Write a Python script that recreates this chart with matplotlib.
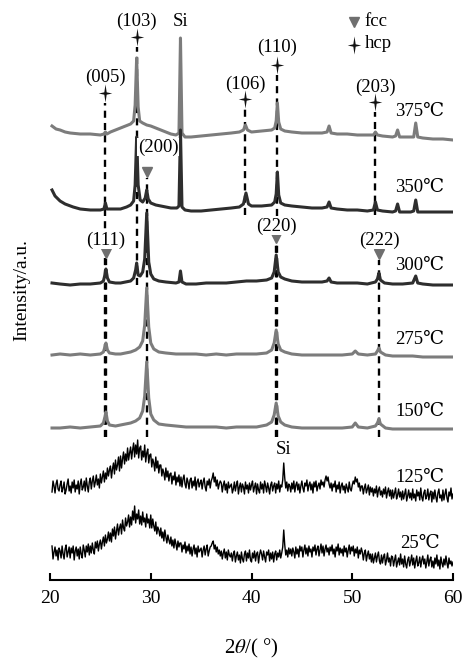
import numpy as np
import matplotlib
matplotlib.use('Agg')
import matplotlib.pyplot as plt
from matplotlib.path import Path

plt.rcParams['font.family'] = ['Liberation Serif', 'DejaVu Serif']
plt.rcParams['mathtext.fontset'] = 'stix'

# ---- data (2theta in degrees, intensity in a.u.) ----
temps = ['375℃', '350℃', '300℃', '275℃', '150℃', '125℃', '25℃']
offsets = [445, 370, 296, 225, 152, 90, 25]
label_y = [468, 392, 315, 240, 168, 103, 37]
colors = ['#7c7c7c', '#2e2e2e', '#2e2e2e', '#7c7c7c', '#7c7c7c', 'black', 'black']

p375 = [(20.2, 9), (20.6, 6), (21.0, 5), (21.5, 3), (22.0, 2), (23.0, 1), (24.0, 1), (25.0, 0),
        (25.35, 1), (25.5, 3), (25.65, 1), (26.0, 3), (26.5, 5), (27.0, 7), (27.5, 9), (28.0, 11),
        (28.3, 14), (28.45, 30), (28.6, 77), (28.75, 28), (28.9, 14), (29.2, 12), (29.6, 10),
        (30.0, 9), (30.5, 7), (31.0, 5), (31.5, 3), (32.0, 1), (32.5, 0), (32.8, 2), (32.95, 97),
        (33.1, 2), (33.4, -2), (34.0, -2), (35.0, -1), (36.0, 0), (37.0, 1), (38.0, 2), (38.8, 3),
        (39.2, 5), (39.4, 10), (39.6, 5), (40.0, 3), (41.0, 4), (42.0, 5), (42.3, 7), (42.45, 14),
        (42.57, 32), (42.7, 13), (42.9, 6), (43.3, 4), (44.0, 3), (45.0, 2), (46.0, 2), (47.0, 2),
        (47.5, 3), (47.7, 9), (47.9, 2), (48.5, 1), (49.5, 1), (50.5, 0), (51.5, 0), (52.1, 0),
        (52.3, 3), (52.5, 0), (53.0, -1), (54.0, -2), (54.3, -1), (54.5, 5), (54.7, -2), (55.0, -2),
        (55.8, -2), (56.1, -2), (56.3, 12), (56.5, -2), (57.0, -3), (58.0, -4), (59.0, -4), (60.0, -5)]

p350 = [(20.2, 20), (20.5, 14), (21.0, 9), (21.5, 6), (22.3, 3), (23.0, 1), (24.0, 0), (25.0, 0),
        (25.35, 1), (25.5, 7), (25.65, 1), (26.0, 1), (27.0, 1), (27.6, 3), (28.0, 5), (28.3, 9),
        (28.45, 25), (28.6, 73), (28.75, 25), (28.95, 10), (29.2, 8), (29.45, 12), (29.6, 20),
        (29.75, 11), (30.0, 7), (30.5, 5), (31.0, 4), (32.0, 2), (32.6, 2), (32.8, 4), (32.95, 80),
        (33.1, 3), (33.4, 0), (34.0, -1), (35.0, -1), (36.0, 0), (37.0, 1), (38.0, 2), (38.8, 3),
        (39.2, 6), (39.45, 17), (39.7, 6), (40.0, 4), (41.0, 4), (42.0, 5), (42.3, 8), (42.45, 16),
        (42.57, 38), (42.7, 15), (42.9, 7), (43.3, 5), (44.0, 4), (45.0, 3), (46.0, 2), (47.0, 2),
        (47.5, 3), (47.7, 8), (47.9, 2), (48.5, 1), (49.5, 0), (50.5, 0), (51.5, -1), (52.1, 0),
        (52.3, 8), (52.5, 0), (53.0, -1), (54.0, -2), (54.3, -1), (54.5, 6), (54.7, -2), (55.0, -2),
        (55.8, -2), (56.1, -1), (56.3, 10), (56.5, -2), (57.0, -2), (58.0, -2), (59.0, -2), (60.0, -2)]

p300 = [(20.2, 1), (21.0, 0), (22.0, -1), (23.0, 0), (24.0, 0), (25.0, 1), (25.3, 3), (25.45, 9),
        (25.55, 15), (25.7, 6), (25.9, 2), (26.5, 1), (27.0, 1), (27.5, 2), (28.0, 3), (28.3, 6),
        (28.5, 14), (28.6, 21), (28.75, 9), (28.95, 8), (29.2, 12), (29.4, 25), (29.6, 71),
        (29.8, 22), (30.0, 10), (30.3, 5), (30.8, 3), (31.5, 2), (32.5, 1), (32.8, 2), (32.95, 13),
        (33.1, 2), (33.5, 0), (34.5, 0), (35.5, 1), (36.5, 1), (37.5, 1), (38.5, 2), (39.5, 3),
        (40.5, 3), (41.5, 4), (42.0, 6), (42.25, 12), (42.45, 29), (42.65, 12), (42.9, 7), (43.3, 5),
        (44.0, 3), (45.0, 2), (46.0, 2), (47.0, 2), (47.5, 3), (47.7, 6), (47.9, 2), (48.5, 1),
        (49.5, 1), (50.5, 1), (51.5, 0), (52.3, 2), (52.5, 5), (52.65, 11), (52.8, 4), (53.2, 1),
        (54.0, 0), (55.0, 0), (56.0, 1), (56.3, 8), (56.5, 1), (57.0, 0), (58.0, -1), (59.0, -1),
        (60.0, -1)]

p275 = [(20.2, 0), (21.0, 1), (22.0, 0), (23.0, 1), (24.0, 0), (25.0, 1), (25.3, 3), (25.45, 8),
        (25.55, 12), (25.7, 5), (25.9, 2), (26.5, 1), (27.0, 1), (27.5, 2), (28.0, 3), (28.5, 5),
        (28.9, 8), (29.2, 14), (29.4, 30), (29.6, 67), (29.8, 28), (30.0, 12), (30.3, 6), (30.8, 3),
        (31.5, 2), (32.5, 1), (33.5, 1), (34.5, 1), (35.5, 0), (36.5, 1), (37.5, 0), (38.5, 1),
        (39.5, 1), (40.5, 1), (41.5, 2), (42.0, 5), (42.25, 12), (42.45, 25), (42.65, 11), (42.9, 5),
        (43.3, 3), (44.0, 1), (45.0, 0), (46.0, 0), (47.0, 0), (48.0, 0), (49.0, 0), (50.0, 1),
        (50.3, 4), (50.6, 1), (51.5, 0), (52.3, 1), (52.5, 4), (52.65, 7), (52.8, 3), (53.3, 0),
        (54.0, -1), (55.0, -1), (56.0, -1), (57.0, -2), (58.0, -2), (59.0, -2), (60.0, -2)]

p150 = [(20.2, 0), (21.0, 0), (22.0, 1), (23.0, 0), (24.0, 1), (25.0, 2), (25.3, 5), (25.45, 11),
        (25.55, 16), (25.7, 7), (25.9, 3), (26.5, 2), (27.0, 3), (27.5, 4), (28.0, 5), (28.5, 7),
        (28.9, 10), (29.2, 17), (29.4, 32), (29.6, 66), (29.8, 30), (30.0, 14), (30.3, 8), (30.8, 4),
        (31.5, 3), (32.5, 2), (33.5, 1), (34.5, 1), (35.5, 1), (36.5, 1), (37.5, 0), (38.5, 1),
        (39.5, 1), (40.5, 1), (41.5, 3), (42.0, 6), (42.25, 13), (42.45, 25), (42.65, 12), (42.9, 6),
        (43.3, 3), (44.0, 1), (45.0, 0), (46.0, 0), (47.0, 0), (48.0, 0), (49.0, 0), (50.0, 1),
        (50.3, 5), (50.6, 1), (51.5, 0), (52.3, 2), (52.5, 5), (52.65, 9), (52.8, 4), (53.3, 0),
        (54.0, -1), (55.0, -1), (56.0, -1), (57.0, -1), (58.0, -1), (59.0, -1), (60.0, -1)]

# amorphous (noisy) scans, read every 0.1 deg from 20 to 60 (one row per degree)
tt_amorph = np.linspace(20, 60, 401)
i125 = [7, 0, -2, 9, 4, -3, 6, 10, 1, -1,
        5, 9, -2, 2, 8, -4, 0, 6, 11, -1,
        4, -3, 8, 2, 10, -2, 5, 1, 9, -4,
        6, 11, 0, 3, 9, -1, 12, 4, -2, 8,
        12, 1, 9, 14, 3, 8, 15, 5, 11, 2,
        16, 7, 13, 19, 8, 17, 11, 22, 14, 20,
        24, 12, 21, 27, 16, 30, 20, 25, 33, 19,
        34, 22, 31, 38, 26, 36, 29, 42, 30, 37,
        43, 31, 40, 47, 33, 45, 36, 50, 32, 42,
        44, 30, 39, 33, 45, 28, 37, 41, 27, 35,
        36, 23, 31, 27, 19, 33, 22, 29, 17, 25,
        25, 14, 21, 17, 10, 22, 13, 19, 9, 16,
        17, 6, 14, 10, 18, 5, 13, 8, 15, 4,
        13, 3, 11, 15, 6, 2, 12, 8, 1, 10,
        12, 2, 9, 4, 13, 0, 8, 11, 3, 7,
        10, 1, 8, 12, 3, -1, 9, 5, 11, 2,
        9, 12, 17, 8, 13, 4, 10, 1, 6, 9,
        7, -2, 5, 9, 0, 6, -3, 8, 2, 4,
        6, -3, 1, 8, -1, 5, 9, -4, 3, 7,
        -2, 6, 3, -4, 8, 1, 5, -3, 7, 0,
        5, 9, -2, 3, 7, -4, 6, 0, -3, 8,
        1, 6, -3, 9, 4, -2, 7, 2, -4, 5,
        8, -1, 4, 7, -3, 6, 1, 9, -2, 5,
        3, 10, 27, 12, 2, 8, -1, 6, 4, -2,
        7, 1, 9, -2, 5, 8, 0, 6, -3, 4,
        9, 2, -2, 7, 4, 10, -1, 5, 8, 0,
        6, -3, 8, 3, 9, -1, 4, 7, 1, 10,
        5, 8, 3, 10, 14, 9, 13, 6, 2, 7,
        -1, 6, 3, 9, -2, 5, 1, 8, -3, 4,
        7, 0, 4, -3, 6, 2, -2, 8, 1, -1,
        5, 9, 6, 13, 8, 11, 3, 7, -1, 4,
        4, -4, 2, 6, -3, 1, 5, -5, 3, -2,
        2, -6, 1, -3, 4, -7, 0, 3, -5, -1,
        -7, 1, -4, 3, -8, -2, 2, -6, 0, -9,
        0, -8, -3, 2, -9, -5, 1, -7, -2, -10,
        -1, -9, -4, 1, -11, -6, 0, -8, -3, -10,
        1, -8, -4, -11, 0, -6, -2, -10, 2, -7,
        -11, -3, 0, -9, -6, 1, -10, -4, -1, -12,
        -2, -9, 0, -7, -12, -3, 1, -8, -5, -11,
        0, -10, -4, 1, -8, -12, -2, -6, 2, -9,
        -4]
i25 = [-2, 6, 9, -4, 3, 8, -1, 5, -5, 7,
       4, -3, 9, 1, -4, 6, 10, -2, 3, 8,
       -3, 7, 2, 9, -5, 4, 8, -1, 6, -4,
       8, 1, -3, 10, 5, -2, 9, 3, 11, 0,
       9, 2, 12, 5, 1, 13, 7, 14, 4, 11,
       15, 6, 13, 18, 9, 20, 12, 16, 23, 14,
       22, 13, 26, 19, 28, 16, 24, 31, 20, 27,
       31, 21, 35, 27, 24, 37, 29, 33, 40, 28,
       38, 30, 44, 35, 49, 32, 41, 36, 45, 31,
       39, 30, 43, 33, 37, 28, 41, 32, 36, 27,
       40, 27, 36, 29, 24, 33, 21, 28, 25, 19,
       27, 17, 23, 14, 25, 18, 12, 20, 15, 11,
       18, 9, 15, 7, 16, 11, 5, 14, 8, 12,
       12, 3, 10, 6, 13, 2, 9, 4, 11, 1,
       8, -1, 6, 10, 1, 7, -2, 9, 3, 5,
       7, -2, 5, 9, 0, 6, 10, -1, 4, 8,
       9, 12, 14, 6, 10, 3, 8, 1, 5, -1,
       4, -4, 2, 6, -3, 3, -5, 5, 0, -2,
       2, -6, 1, 4, -7, -1, 3, -5, 0, -8,
       3, -4, -7, 1, 4, -6, 2, -3, 5, -5,
       -7, 2, -3, 4, -6, 1, 3, -8, 0, 5,
       1, -5, 4, -2, -7, 3, 0, 5, -6, 2,
       -4, 3, -7, 1, 4, -5, 2, -2, 5, -3,
       2, 8, 25, 10, 0, 5, -2, 7, 1, 6,
       -1, 7, 3, -3, 8, 1, 6, -2, 9, 4,
       8, -2, 5, 10, 1, 7, -1, 9, 3, 6,
       -2, 8, 4, 10, 0, 6, 9, -1, 5, 11,
       2, 9, -1, 6, 10, 3, 7, 0, 8, 4,
       10, 1, 6, -2, 8, 4, 11, 0, 7, 2,
       6, -1, 9, 3, 7, -2, 5, 10, 1, 8,
       4, 9, -1, 6, 2, 8, -3, 5, 1, 7,
       3, -5, 2, 5, -6, 0, 4, -4, 1, -7,
       1, -8, -3, 2, -7, -1, 3, -6, -9, 0,
       -8, -2, 1, -10, -5, 2, -7, -3, -11, -1,
       -2, -11, -5, 0, -12, -7, -3, -10, 1, -9,
       -4, -12, -1, -9, -13, -5, -2, -11, -6, 0,
       -10, -3, -13, -6, -1, -11, -8, -2, -12, -5,
       -1, -9, -4, -13, -7, 0, -11, -5, -2, -12,
       -6, -13, -3, -9, 0, -11, -5, -14, -2, -8,
       -12, -4, -10, -1, -8, -13, -3, -9, -6, -11,
       -7]

# reflections: (label, 2theta, marker height, label height, dashed line bottom)
hcp_refl = [('(005)', 25.5, 487, 503, 143), ('(103)', 28.6, 543, 559, 295),
            ('(106)', 39.4, 481, 496, 365), ('(110)', 42.55, 515, 533, 143),
            ('(203)', 52.3, 478, 493, 365)]
fcc_refl = [('(111)', 25.55, 327, 340, 143), ('(200)', 29.6, 408, 433, 143),
            ('(220)', 42.45, 342, 354, 143), ('(222)', 52.65, 326, 340, 143)]

# thin four-pointed star used for hcp
r = 0.13
star = Path([(0, 1), (r, r), (0.75, 0), (r, -r), (0, -1), (-r, -r), (-0.75, 0), (-r, r), (0, 1)],
            [Path.MOVETO] + [Path.LINETO] * 7 + [Path.CLOSEPOLY])

# ---- plot ----
fig = plt.figure(figsize=(4.62, 6.6), dpi=100)
ax = fig.add_axes([50 / 462, 80 / 660, 403 / 462, 580 / 660])

crystal = [p375, p350, p300, p275, p150]
for pts, off, col in zip(crystal, offsets[:5], colors[:5]):
    tt, inten = zip(*pts)
    ax.plot(tt, np.array(inten) + off, color=col, lw=2.2, zorder=3)
for inten, off, col in zip([i125, i25], offsets[5:], colors[5:]):
    ax.plot(tt_amorph[2:], np.array(inten[2:]) + off, color=col, lw=1.0, zorder=3)

for name, y in zip(temps, label_y):
    ax.text(56.7, y, name, ha='center', va='center', fontsize=13.5)

dash = (0, (3, 2.2))
for name, tt, ym, yl, yb in hcp_refl:
    ax.plot([tt, tt], [yb, ym - 10], color='black', lw=1.7, linestyle=dash, zorder=2)
    ax.plot(tt, ym, marker=star, ms=13, color='#111111', mew=0, zorder=5)
    ax.text(tt, yl, name, ha='center', va='center', fontsize=13.5, zorder=6)
for name, tt, ym, yl, yb in fcc_refl:
    ax.plot([tt, tt], [yb, ym - 6], color='black', lw=1.7, linestyle=dash, zorder=2)
    ax.plot(tt, ym, marker='v', ms=7, color='#6f6f6f', zorder=5)
    dx = 1.15 if name == '(200)' else 0
    ax.text(tt + dx, yl, name, ha='center', va='center', fontsize=13.5, zorder=6,
            bbox=dict(facecolor='white', edgecolor='none', pad=0.5))

ax.text(32.95, 558, 'Si', ha='center', va='center', fontsize=13.5)
ax.text(43.2, 130, 'Si', ha='center', va='center', fontsize=13.5)

# legend
ax.plot(50.2, 558, marker='v', ms=7, color='#6f6f6f', clip_on=False)
ax.text(51.2, 558, 'fcc', ha='left', va='center', fontsize=13.5)
ax.plot(50.2, 535, marker=star, ms=13, color='#111111', mew=0, clip_on=False)
ax.text(51.2, 536, 'hcp', ha='left', va='center', fontsize=13.5)

ax.set_xlim(20, 60)
ax.set_ylim(0, 580)
for s in ['left', 'top', 'right']:
    ax.spines[s].set_visible(False)
ax.spines['bottom'].set_linewidth(1.5)
ax.set_yticks([])
ax.set_xticks([20, 30, 40, 50, 60])
ax.tick_params(axis='x', direction='in', length=5, width=1.5, labelsize=14, pad=7)
ax.set_xlabel(r'2$\theta$/( °)', fontsize=15, labelpad=22)
ax.set_ylabel('Intensity/a.u.', fontsize=14, labelpad=14)

fig.savefig('out.png', dpi=100)
